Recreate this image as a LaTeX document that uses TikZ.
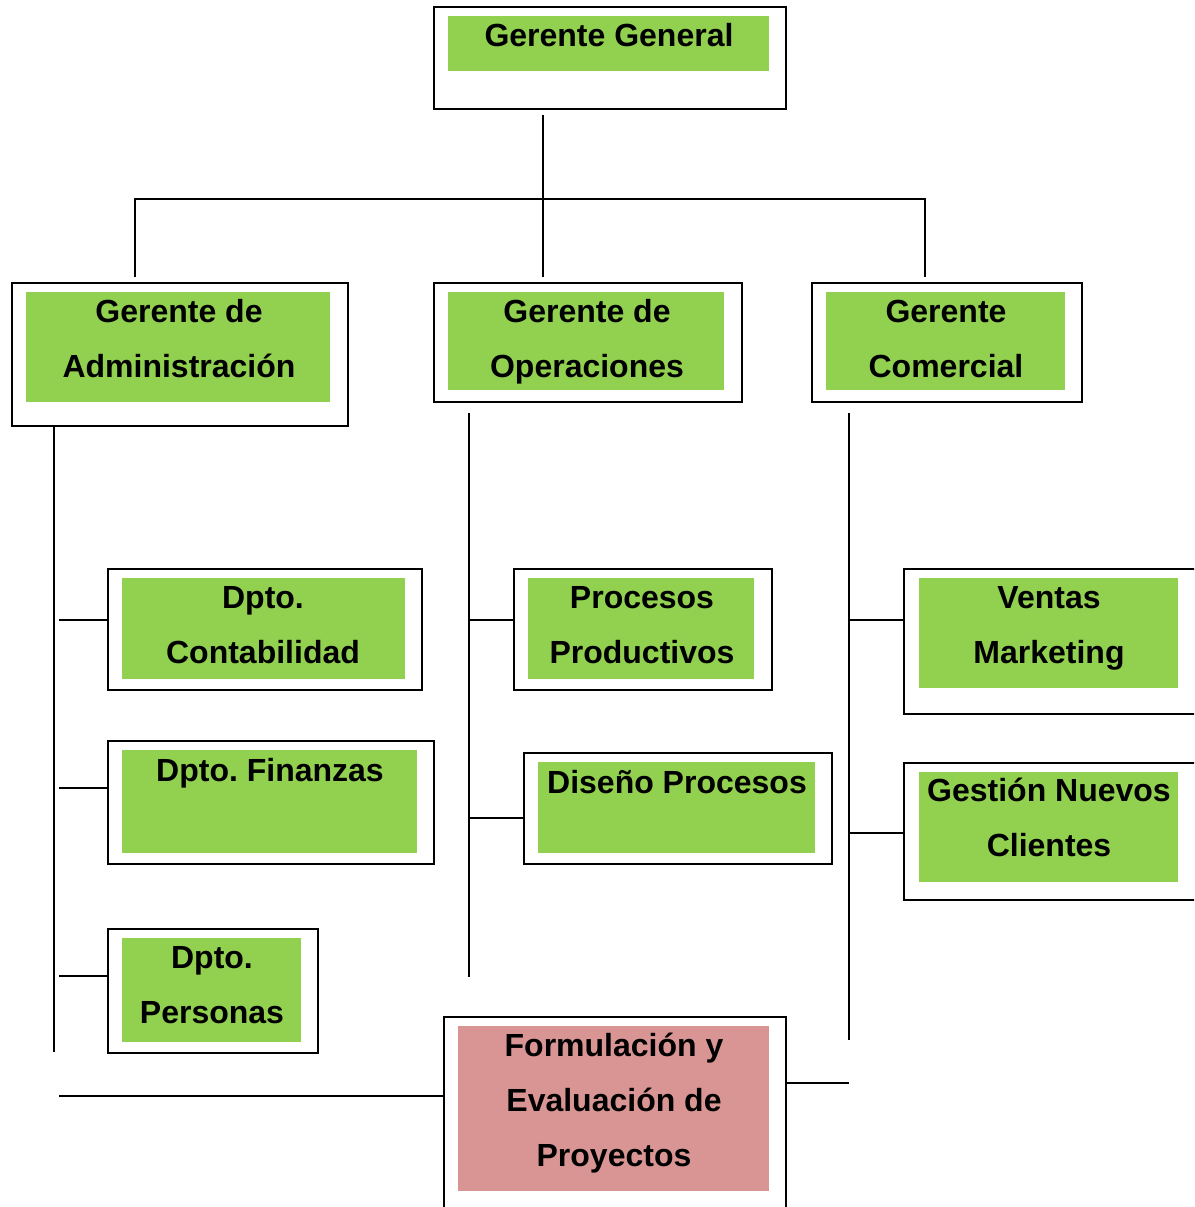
\documentclass[tikz,border=0pt]{standalone}
\usepackage{fontspec}
\setmainfont{Liberation Sans}
\frenchspacing
\definecolor{verde}{HTML}{92D050}
\definecolor{rosa}{HTML}{D99594}
\tikzset{
  caja/.style={draw, line width=1.8pt, fill=white, anchor=north west, inner sep=0},
  fondo/.style={fill=verde, anchor=north west, inner sep=0},
  rotulo/.style={font=\bfseries\fontsize{32}{55}\selectfont, align=center, inner sep=0, anchor=north},
  linea/.style={line width=1.6pt}
}
\begin{document}
\begin{tikzpicture}[x=1pt, y=-1pt]
\clip (0,0) rectangle (1194,1207);

% gerencia general
\node[caja, minimum width=352, minimum height=102] (gg) at (433,6) {};
\node[fondo, minimum width=321, minimum height=55] (ggF) at (448,16) {};
\node[rotulo] (ggT) at (609,7.5) {\strut Gerente General};

% gerencias
\node[caja, minimum width=336, minimum height=143] (adm) at (11,282) {};
\node[fondo, minimum width=304, minimum height=110] (admF) at (26,292) {};
\node[rotulo] (admT) at (179,283.5) {\strut Gerente de\\Administración};

\node[caja, minimum width=308, minimum height=119] (ope) at (433,282) {};
\node[fondo, minimum width=276, minimum height=98] (opeF) at (448,292) {};
\node[rotulo] (opeT) at (587,283.5) {\strut Gerente de\\Operaciones};

\node[caja, minimum width=270, minimum height=119] (com) at (811,282) {};
\node[fondo, minimum width=239, minimum height=98] (comF) at (826,292) {};
\node[rotulo] (comT) at (946,283.5) {\strut Gerente\\Comercial};

% departamentos de administracion
\node[caja, minimum width=314, minimum height=121] (cont) at (107,568) {};
\node[fondo, minimum width=283, minimum height=101] (contF) at (122,578) {};
\node[rotulo] (contT) at (263,569.5) {\strut Dpto.\\Contabilidad};

\node[caja, minimum width=326, minimum height=123] (fin) at (107,740) {};
\node[fondo, minimum width=295, minimum height=103] (finF) at (122,750) {};
\node[rotulo] (finT) at (270,742.5) {\strut Dpto. Finanzas};

\node[caja, minimum width=210, minimum height=124] (per) at (107,928) {};
\node[fondo, minimum width=179, minimum height=104] (perF) at (122,938) {};
\node[rotulo] (perT) at (212,929.5) {\strut Dpto.\\Personas};

% operaciones
\node[caja, minimum width=258, minimum height=121] (proc) at (513,568) {};
\node[fondo, minimum width=226, minimum height=101] (procF) at (528,578) {};
\node[rotulo] (procT) at (642,569.5) {\strut Procesos\\Productivos};

\node[caja, minimum width=308, minimum height=111] (dis) at (523,752) {};
\node[fondo, minimum width=277, minimum height=91] (disF) at (538,762) {};
\node[rotulo] (disT) at (677,754.5) {\strut Diseño Procesos};

% comercial
\node[caja, minimum width=296, minimum height=145] (ven) at (903,568) {};
\node[fondo, minimum width=259, minimum height=110] (venF) at (919,578) {};
\node[rotulo] (venT) at (1049,569.5) {\strut Ventas\\Marketing};

\node[caja, minimum width=296, minimum height=137] (ges) at (903,762) {};
\node[fondo, minimum width=259, minimum height=110] (gesF) at (919,772) {};
\node[rotulo] (gesT) at (1049,762.5) {\strut Gestión Nuevos\\Clientes};

% proyectos
\node[caja, minimum width=342, minimum height=210] (form) at (443,1016) {};
\node[fondo, fill=rosa, minimum width=311, minimum height=165] (formF) at (458,1026) {};
\node[rotulo] (formT) at (614,1017.5) {\strut Formulación y\\Evaluación de\\Proyectos};

% lineas de mando
\coordinate (r0) at (543,115);
\coordinate (r1) at (543,199);
\coordinate (bAdm) at (135,277);
\coordinate (bOpe) at (543,277);
\coordinate (bCom) at (925,277);
\draw[linea] (r0) -- (r1) -- (bOpe);
\draw[linea] (bAdm) |- (r1) -| (bCom);

% troncos verticales
\coordinate (tA1) at (54,425);  \coordinate (tA2) at (54,1052);
\coordinate (tO1) at (469,413); \coordinate (tO2) at (469,977);
\coordinate (tC1) at (849,413); \coordinate (tC2) at (849,1040);
\draw[linea] (tA1) -- (tA2);
\draw[linea] (tO1) -- (tO2);
\draw[linea] (tC1) -- (tC2);

% ramas
\draw[linea] (59,620) -- (cont.west |- 0,620);
\draw[linea] (59,788) -- (fin.west |- 0,788);
\draw[linea] (59,976) -- (per.west |- 0,976);
\draw[linea] (59,1096) -- (form.west |- 0,1096);
\draw[linea] (tO1 |- 0,620) -- (proc.west |- 0,620);
\draw[linea] (tO1 |- 0,818) -- (dis.west |- 0,818);
\draw[linea] (tC1 |- 0,620) -- (ven.west |- 0,620);
\draw[linea] (tC1 |- 0,833) -- (ges.west |- 0,833);
\draw[linea] (form.east |- 0,1083) -- (tC1 |- 0,1083);
\end{tikzpicture}
\end{document}
